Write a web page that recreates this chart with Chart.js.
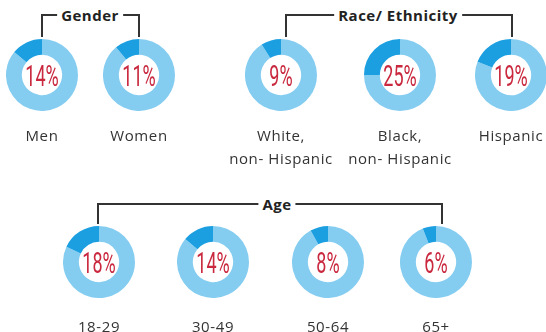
<!DOCTYPE html>
<html><head><meta charset="utf-8">
<script src="https://cdn.jsdelivr.net/npm/chart.js@4"></script>
<style>
html,body{margin:0;padding:0;background:#fff;}
#wrap{position:relative;width:546px;height:332px;overflow:hidden;font-family:"Open Sans",sans-serif;}
.pct{position:absolute;width:80px;text-align:center;color:#c9283e;font-family:Roboto,sans-serif;font-weight:400;font-size:29px;line-height:30px;transform:scaleX(0.62);}
.lbl{position:absolute;width:160px;text-align:center;color:#333;font-size:15px;letter-spacing:0.6px;line-height:22px;white-space:nowrap;}
.hdr{position:absolute;text-align:center;color:#222;font-weight:bold;font-size:15px;letter-spacing:0.5px;line-height:16px;background:#fff;padding:0 4px;white-space:nowrap;transform:translateX(-50%);}
.ln{position:absolute;background:#333;}
canvas{position:absolute;}
</style></head>
<body><div id="wrap"></div>
<script>
// ---- data ----
const groups = ['Gender', 'Race/ Ethnicity', 'Age'];
const categories = ['Men', 'Women', 'White,\nnon- Hispanic', 'Black,\nnon- Hispanic', 'Hispanic', '18-29', '30-49', '50-64', '65+'];
const values = [14, 11, 9, 25, 19, 18, 14, 8, 6];

// ---- layout (positions only) ----
const centers = [[42,75],[139,75],[281,75],[400,75],[511,75],[99,262],[213,262],[328,262],[436,262]];
const labelY = [135,135,146,146,135,326,326,326,326];
const brackets = [
  {x1:42, x2:139, y:15, yb:37, tx:90},
  {x1:286, x2:512, y:15, yb:37, tx:398},
  {x1:98, x2:442, y:204, yb:224, tx:277}
];
const LIGHT = '#84cdf1', DARK = '#1c9fe1';
const wrap = document.getElementById('wrap');

function el(cls, css, text) {
  const d = document.createElement('div');
  d.className = cls;
  Object.assign(d.style, css);
  if (text !== undefined) d.textContent = text;
  wrap.appendChild(d);
  return d;
}

brackets.forEach((b, g) => {
  el('ln', {left: b.x1 - 1 + 'px', top: b.y - 1 + 'px', width: (b.x2 - b.x1 + 2) + 'px', height: '2px'});
  el('ln', {left: b.x1 - 1 + 'px', top: b.y - 1 + 'px', width: '2px', height: (b.yb - b.y + 1) + 'px'});
  el('ln', {left: b.x2 - 1 + 'px', top: b.y - 1 + 'px', width: '2px', height: (b.yb - b.y + 1) + 'px'});
  el('hdr', {left: b.tx + 'px', top: (b.y - 8) + 'px'}, groups[g]);
});

categories.forEach((cat, i) => {
  const [cx, cy] = centers[i];
  const c = document.createElement('canvas');
  c.width = 72; c.height = 72;
  c.style.left = (cx - 36) + 'px';
  c.style.top = (cy - 36) + 'px';
  wrap.appendChild(c);
  new Chart(c, {
    type: 'doughnut',
    data: {
      labels: ['Rest', cat],
      datasets: [{data: [100 - values[i], values[i]], backgroundColor: [LIGHT, DARK], borderWidth: 0}]
    },
    options: {
      responsive: false, animation: false, events: [],
      cutout: '56%',
      layout: {padding: 0},
      plugins: {legend: {display: false}, tooltip: {enabled: false}}
    }
  });
  el('pct', {left: (cx - 40) + 'px', top: (cy - 14) + 'px'}, values[i] + '%');
  const lines = cat.split('\n');
  lines.forEach((t, k) => {
    el('lbl', {left: (cx - 80) + 'px', top: (labelY[i] - 11 + (k - (lines.length - 1) / 2) * 23) + 'px'}, t);
  });
});
</script>
</body></html>
